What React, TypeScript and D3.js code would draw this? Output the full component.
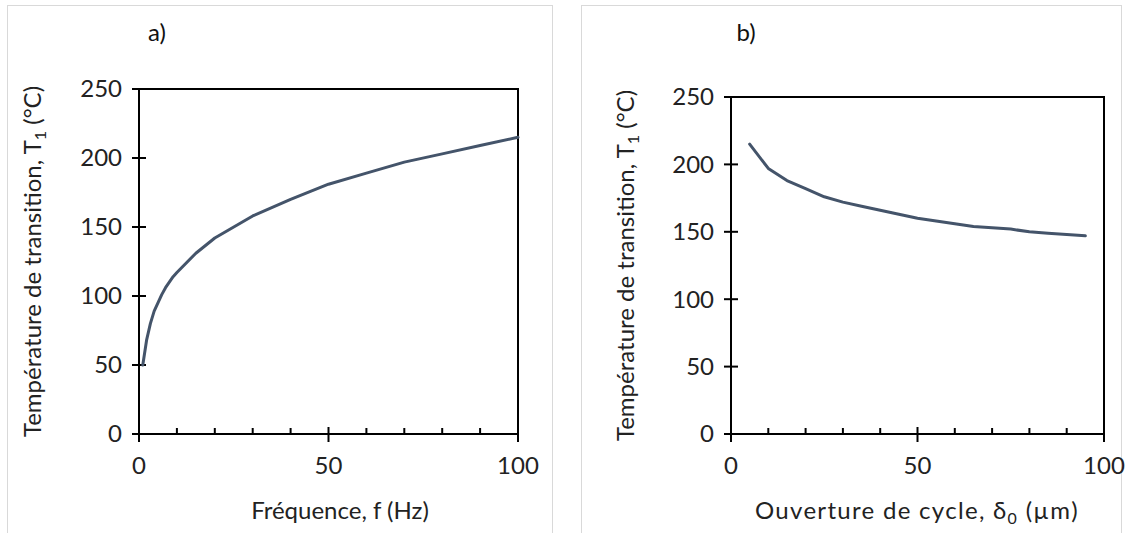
import React from "react";
import * as d3 from "d3";

const freqHz = [1, 2, 3, 4, 5, 6, 7, 8, 9, 10, 15, 20, 30, 40, 50, 60, 70, 80, 90, 100];
const tempA = [50, 68, 80, 89, 95, 101, 106, 110, 114, 117, 131, 142, 158, 170, 181, 189, 197, 203, 209, 215];
const openingUm = [5, 10, 15, 20, 25, 30, 35, 40, 45, 50, 55, 60, 65, 70, 75, 80, 85, 90, 95];
const tempB = [215, 197, 188, 182, 176, 172, 169, 166, 163, 160, 158, 156, 154, 153, 152, 150, 149, 148, 147];
const yTicks = [0, 50, 100, 150, 200, 250];
const xMajorTicks = [0, 50, 100];
const xMinorTicks = [10, 20, 30, 40, 60, 70, 80, 90];

const FONT = "Lato, 'Liberation Sans', sans-serif";
const LINE = "#44546A";

type PanelProps = {
  left: number;
  right: number;
  x0: number;
  x1: number;
  yTop: number;
  yBottom: number;
  xs: number[];
  ys: number[];
  title: string;
  titleX: number;
  xLabel: React.ReactNode;
  xLabelX: number;
  xLabelSpacing: number;
  yLabelX: number;
};

function Panel(p: PanelProps) {
  const x = d3.scaleLinear().domain([0, 100]).range([p.x0, p.x1]);
  const y = d3.scaleLinear().domain([0, 250]).range([p.yBottom, p.yTop]);
  const line = d3
    .line<number>()
    .x((_, i) => x(p.xs[i]))
    .y((d) => y(d));
  const fs = 24;
  return (
    <g>
      <rect x={p.left + 0.5} y={5.5} width={p.right - p.left} height={560} fill="#fff" stroke="#d9d9d9" strokeWidth={1} />
      <text x={p.titleX} y={41} fontFamily={FONT} fontSize={24} textAnchor="middle" fill="#111">
        {p.title}
      </text>
      <rect x={p.x0} y={p.yTop} width={p.x1 - p.x0} height={p.yBottom - p.yTop} fill="none" stroke="#000" strokeWidth={2} />
      {yTicks.map((t) => (
        <g key={"y" + t}>
          <line x1={p.x0 - 7} x2={p.x0 + 7} y1={y(t)} y2={y(t)} stroke="#000" strokeWidth={2} />
          <text x={p.x0 - 17} y={y(t)} dy="0.35em" textAnchor="end" fontFamily={FONT} fontSize={fs} fill="#222">
            {t}
          </text>
        </g>
      ))}
      {xMajorTicks.map((t) => (
        <g key={"x" + t}>
          <line x1={x(t)} x2={x(t)} y1={p.yBottom - 7} y2={p.yBottom + 8} stroke="#000" strokeWidth={2} />
          <text x={x(t)} y={p.yBottom + 40} textAnchor="middle" fontFamily={FONT} fontSize={fs} fill="#222">
            {t}
          </text>
        </g>
      ))}
      {xMinorTicks.map((t) => (
        <line key={"m" + t} x1={x(t)} x2={x(t)} y1={p.yBottom - 6} y2={p.yBottom} stroke="#000" strokeWidth={2} />
      ))}
      <path d={line(p.ys) || ""} fill="none" stroke={LINE} strokeWidth={3} strokeLinejoin="round" strokeLinecap="round" />
      <text
        x={p.xLabelX}
        y={519}
        textAnchor="middle"
        fontFamily={FONT}
        fontSize={24}
        letterSpacing={p.xLabelSpacing}
        fill="#222"
      >
        {p.xLabel}
      </text>
      <text
        transform={`translate(${p.yLabelX},${(p.yTop + p.yBottom) / 2}) rotate(-90)`}
        textAnchor="middle"
        dy="0.35em"
        fontFamily={FONT}
        fontSize={24}
        fill="#222"
      >
        Température de transition, T<tspan fontSize={16} dy={5}>1</tspan>
        <tspan dy={-5}> (°C)</tspan>
      </text>
    </g>
  );
}

export default function App() {
  return (
    <svg width={1128} height={533} style={{ position: "absolute", left: 0, top: 0, background: "#fff" }}>
      <rect x={0} y={0} width={1128} height={533} fill="#fff" />
      <Panel
        left={7}
        right={552}
        x0={139}
        x1={518}
        yTop={89}
        yBottom={434}
        xs={freqHz}
        ys={tempA}
        title="a)"
        titleX={157}
        xLabel={<>Fréquence, f (Hz)</>}
        xLabelX={340}
        xLabelSpacing={0}
        yLabelX={33}
      />
      <Panel
        left={581}
        right={1121}
        x0={731}
        x1={1104}
        yTop={97}
        yBottom={434}
        xs={openingUm}
        ys={tempB}
        title="b)"
        titleX={746}
        xLabel={
          <>
            Ouverture de cycle, δ<tspan fontSize={16} dy={5}>0</tspan>
            <tspan dy={-5}> (µm)</tspan>
          </>
        }
        xLabelX={917}
        xLabelSpacing={1.3}
        yLabelX={626}
      />
    </svg>
  );
}
